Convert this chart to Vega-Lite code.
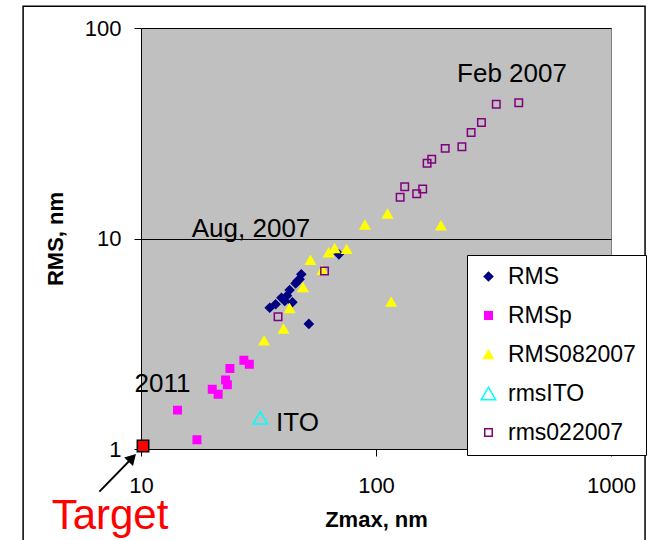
{
  "$schema": "https://vega.github.io/schema/vega-lite/v6.json",
  "width": 470,
  "height": 421,
  "autosize": "none",
  "padding": {"left": 141, "top": 28, "right": 37, "bottom": 91},
  "background": "white",
  "config": {
    "font": "Liberation Sans",
    "view": {"fill": "#C0C0C0", "stroke": "#808080", "strokeWidth": 1},
    "axis": {
      "labelFont": "Liberation Sans",
      "labelFontSize": 22,
      "labelColor": "black",
      "titleFont": "Liberation Sans",
      "titleFontSize": 22,
      "titleFontWeight": "bold",
      "titleColor": "black",
      "domainColor": "black",
      "tickColor": "black",
      "tickSize": 7,
      "labelFlush": false,
      "labelOverlap": false
    },
    "legend": {
      "labelFont": "Liberation Sans",
      "labelFontSize": 23,
      "labelColor": "black"
    }
  },
  "datasets": {
    "points": [
      {"series": "RMS", "zmax": 35.3, "rms": 4.69},
      {"series": "RMS", "zmax": 37.4, "rms": 4.87},
      {"series": "RMS", "zmax": 39.6, "rms": 5.23},
      {"series": "RMS", "zmax": 40.9, "rms": 5.05},
      {"series": "RMS", "zmax": 41.8, "rms": 5.35},
      {"series": "RMS", "zmax": 44.1, "rms": 4.98},
      {"series": "RMS", "zmax": 42.9, "rms": 5.69},
      {"series": "RMS", "zmax": 45.5, "rms": 6.12},
      {"series": "RMS", "zmax": 46.4, "rms": 6.3},
      {"series": "RMS", "zmax": 47.3, "rms": 6.4},
      {"series": "RMS", "zmax": 48.1, "rms": 6.76},
      {"series": "RMS", "zmax": 51.8, "rms": 3.93},
      {"series": "RMS", "zmax": 69.5, "rms": 8.41},
      {"series": "RMSp", "zmax": 14.3, "rms": 1.53},
      {"series": "RMSp", "zmax": 17.3, "rms": 1.107},
      {"series": "RMSp", "zmax": 20.1, "rms": 1.92},
      {"series": "RMSp", "zmax": 21.3, "rms": 1.82},
      {"series": "RMSp", "zmax": 22.9, "rms": 2.13},
      {"series": "RMSp", "zmax": 23.3, "rms": 2.02},
      {"series": "RMSp", "zmax": 23.9, "rms": 2.41},
      {"series": "RMSp", "zmax": 27.4, "rms": 2.64},
      {"series": "RMSp", "zmax": 28.9, "rms": 2.53},
      {"series": "RMS082007", "zmax": 33.4, "rms": 3.27},
      {"series": "RMS082007", "zmax": 40.4, "rms": 3.72},
      {"series": "RMS082007", "zmax": 42.9, "rms": 4.66},
      {"series": "RMS082007", "zmax": 48.9, "rms": 5.86},
      {"series": "RMS082007", "zmax": 52.6, "rms": 7.9},
      {"series": "RMS082007", "zmax": 59.1, "rms": 7.08},
      {"series": "RMS082007", "zmax": 62.9, "rms": 8.56},
      {"series": "RMS082007", "zmax": 66.7, "rms": 8.98},
      {"series": "RMS082007", "zmax": 75.0, "rms": 8.89},
      {"series": "RMS082007", "zmax": 89.7, "rms": 11.6},
      {"series": "RMS082007", "zmax": 112, "rms": 13.1},
      {"series": "RMS082007", "zmax": 189, "rms": 11.5},
      {"series": "RMS082007", "zmax": 116, "rms": 5.0},
      {"series": "rmsITO", "zmax": 32.2, "rms": 1.406},
      {"series": "rms022007", "zmax": 38.3, "rms": 4.25},
      {"series": "rms022007", "zmax": 60.4, "rms": 7.01},
      {"series": "rms022007", "zmax": 126.7, "rms": 15.7},
      {"series": "rms022007", "zmax": 132.5, "rms": 17.6},
      {"series": "rms022007", "zmax": 149, "rms": 16.3},
      {"series": "rms022007", "zmax": 158, "rms": 17.2},
      {"series": "rms022007", "zmax": 165, "rms": 22.8},
      {"series": "rms022007", "zmax": 172.6, "rms": 23.8},
      {"series": "rms022007", "zmax": 197, "rms": 26.8},
      {"series": "rms022007", "zmax": 232, "rms": 27.3},
      {"series": "rms022007", "zmax": 254, "rms": 31.9},
      {"series": "rms022007", "zmax": 281, "rms": 35.6},
      {"series": "rms022007", "zmax": 325, "rms": 43.4},
      {"series": "rms022007", "zmax": 405, "rms": 44.2}
    ],
    "notes": [
      {"label": "Feb 2007", "zmax": 379, "rms": 55.6},
      {"label": "Aug, 2007", "zmax": 29.4, "rms": 10.2},
      {"label": "2011", "zmax": 12.35, "rms": 1.87},
      {"label": "ITO", "zmax": 46.3, "rms": 1.22}
    ]
  },
  "encoding": {
    "x": {
      "field": "zmax",
      "type": "quantitative",
      "scale": {"type": "log", "domain": [10, 1000], "nice": false},
      "axis": {"title": "Zmax, nm", "values": [10, 100, 1000], "format": "d", "grid": false, "labelPadding": 19, "titlePadding": 13}
    },
    "y": {
      "field": "rms",
      "type": "quantitative",
      "scale": {"type": "log", "domain": [1, 100], "nice": false},
      "axis": {"title": "RMS, nm", "values": [1, 10, 100], "format": "d", "grid": true, "gridColor": "black", "gridOpacity": 1, "gridWidth": 1, "labelPadding": 13, "titlePadding": 17}
    }
  },
  "layer": [
    {
      "data": {"values": [{"zmax": 3.15, "rms": 127, "zmax2": 1396, "rms2": 0.3}]},
      "mark": {"type": "rect", "fill": null, "stroke": "black", "strokeWidth": 1.5, "clip": false},
      "encoding": {
        "x2": {"field": "zmax2"},
        "y2": {"field": "rms2"}
      }
    },
    {
      "data": {"name": "points"},
      "mark": {"type": "point", "filled": true, "strokeWidth": 1.5, "opacity": 1},
      "encoding": {
        "shape": {
          "field": "series", "type": "nominal",
          "scale": {"domain": ["RMS", "RMSp", "RMS082007", "rmsITO", "rms022007"], "range": ["diamond", "square", "triangle-up", "triangle-up", "square"]},
          "legend": {"title": null, "orient": "none", "legendX": 326, "legendY": 227, "fillColor": "white", "strokeColor": "black", "padding": 10, "rowPadding": 15, "labelOffset": 8, "symbolStrokeWidth": 1.5}
        },
        "stroke": {
          "field": "series", "type": "nominal",
          "scale": {"domain": ["RMS", "RMSp", "RMS082007", "rmsITO", "rms022007"], "range": ["#000080", "#FF00FF", "#FFFF00", "#00FFFF", "#800080"]},
          "legend": {"title": null, "orient": "none", "legendX": 326, "legendY": 227}
        },
        "fill": {
          "field": "series", "type": "nominal",
          "scale": {"domain": ["RMS", "RMSp", "RMS082007", "rmsITO", "rms022007"], "range": ["#000080", "#FF00FF", "#FFFF00", "transparent", "transparent"]},
          "legend": {"title": null, "orient": "none", "legendX": 326, "legendY": 227}
        },
        "size": {
          "field": "series", "type": "ordinal",
          "scale": {"type": "ordinal", "domain": ["RMS", "RMSp", "RMS082007", "rmsITO", "rms022007"], "range": [72, 56, 90, 210, 56]},
          "legend": {"title": null, "orient": "none", "legendX": 326, "legendY": 227}
        }
      }
    },
    {
      "data": {"values": [{"zmax": 10.2, "rms": 1.033}]},
      "mark": {"type": "point", "shape": "square", "filled": true, "fill": "#FF0000", "stroke": "black", "strokeWidth": 1.5, "size": 130, "opacity": 1, "clip": false}
    },
    {
      "data": {"values": [{"zmax": 6.65, "rms": 0.627}, {"zmax": 9.18, "rms": 0.908}]},
      "mark": {"type": "line", "color": "black", "strokeWidth": 2, "clip": false}
    },
    {
      "data": {"values": [{"zmax": 9.18, "rms": 0.908}]},
      "mark": {"type": "point", "shape": "triangle-up", "filled": true, "color": "black", "size": 150, "angle": 44, "opacity": 1, "clip": false}
    },
    {
      "data": {"name": "notes"},
      "mark": {"type": "text", "font": "Liberation Sans", "fontSize": 26, "color": "black", "align": "center", "baseline": "alphabetic", "clip": false},
      "encoding": {"text": {"field": "label"}}
    },
    {
      "data": {"values": [{"label": "Target", "zmax": 7.38, "rms": 0.4155}]},
      "mark": {"type": "text", "font": "Liberation Sans", "fontSize": 42, "color": "#FF0000", "align": "center", "baseline": "alphabetic", "clip": false},
      "encoding": {"text": {"field": "label"}}
    }
  ]
}
